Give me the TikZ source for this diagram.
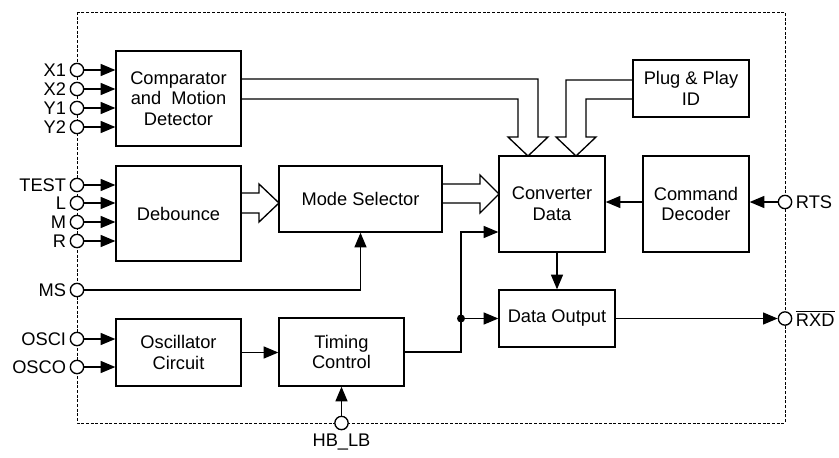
\documentclass[tikz,border=0pt]{standalone}
\usepackage{fontspec}
\setmainfont{Liberation Sans}
\usepackage{tikz}
\usetikzlibrary{arrows.meta}

\tikzset{
  blk/.style={draw, line width=1pt, align=center, inner sep=2pt},
  pin/.style={draw, circle, fill=white, line width=1pt, minimum size=10pt, inner sep=0pt},
  sig/.style={line width=1pt, -{Triangle[length=11pt,width=9pt]}},
  wire/.style={line width=1pt},
  bus/.style={line width=1pt, line join=miter},
  border/.style={line width=0.7pt, dash pattern=on 2.2pt off 1.3pt},
}

\begin{document}
\begin{tikzpicture}[x=0.75pt,y=0.75pt,yscale=-1,xscale=1,
    every node/.style={font=\fontsize{13.7}{15.5}\selectfont},
    every label/.style={font=\fontsize{13.7}{15.5}\selectfont, inner sep=2.5pt}]
  \useasboundingbox (0,0) rectangle (839,457);

  % chip outline
  \draw[border] (77,12) rectangle (785,423);

  % blocks
  \node[blk, minimum width=93.75pt, minimum height=71.25pt] (comp) at (178.5,98.5) {Comparator\\and~~Motion\\Detector};
  \node[blk, minimum width=93.75pt, minimum height=71.25pt] (deb) at (178.5,213.5) {Debounce};
  \node[blk, minimum width=93.75pt, minimum height=50.25pt] (osc) at (178.5,352.5) {Oscillator\\Circuit};
  \node[blk, minimum width=122.25pt, minimum height=49.5pt] (mode) at (360.5,199) {Mode Selector};
  \node[blk, minimum width=93.75pt, minimum height=51pt] (timing) at (341.5,352) {Timing\\Control};
  \node[blk, minimum width=79.5pt, minimum height=72pt] (conv) at (552,204) {Converter\\Data};
  \node[blk, minimum width=79.5pt, minimum height=72pt] (cmd) at (696,204) {Command\\Decoder};
  \node[blk, minimum width=87pt, minimum height=42.75pt] (pnp) at (691,88.5) {Plug \& Play\\ID};
  \node[blk, minimum width=87pt, minimum height=42.75pt] (dout) at (557,318.5) {Data Output};

  % pins
  \node[pin, label=left:X1] (x1) at (77,70) {};
  \node[pin, label=left:X2] (x2) at (77,89) {};
  \node[pin, label=left:Y1] (y1) at (77,108) {};
  \node[pin, label=left:Y2] (y2) at (77,127) {};
  \node[pin, label=left:TEST] (test) at (77,185) {};
  \node[pin, label=left:L] (l) at (77,203) {};
  \node[pin, label=left:M] (m) at (77,222) {};
  \node[pin, label=left:R] (r) at (77,241) {};
  \node[pin, label=left:MS] (ms) at (77,290) {};
  \node[pin, label=left:OSCI] (osci) at (77,339) {};
  \node[pin, label=left:OSCO] (osco) at (77,367) {};
  \node[pin, label=right:RTS] (rts) at (785,202) {};
  \node[pin, label=right:{\(\overline{\mbox{RXD}}\)}] (rxd) at (785,318.5) {};
  \node[pin, label=below:HB\_LB] (hblb) at (341.5,423) {};

  % inputs
  \foreach \p in {x1,x2,y1,y2}
    \draw[sig] (\p) -- (\p -| comp.west);
  \foreach \p in {test,l,m,r}
    \draw[sig] (\p) -- (\p -| deb.west);
  \foreach \p in {osci,osco}
    \draw[sig] (\p) -- (\p -| osc.west);
  \draw[sig] (ms) -| (mode.south);
  \draw[sig] (hblb) -- (timing.south);
  \draw[sig] (rts) -- (rts -| cmd.east);

  % internal signals
  \draw[sig] (osc.east) -- (osc.east -| timing.west);
  \draw[sig] (cmd.west |- rts) -- (rts -| conv.east);
  \draw[sig] (conv.south -| dout.north) -- (dout.north);
  \draw[sig] (dout) -- (rxd);
  \coordinate (jn) at (461,318.5);
  \draw[wire] (timing.east) -| (jn);
  \draw[sig] (jn) |- (conv.west |- 0,232);
  \draw[sig] (jn) -- (jn -| dout.west);
  \fill (jn) circle (4);

  % wide data paths
  \draw[bus] (comp.east |- 0,79) -| (538,137) -- (548,137) -- (528,156) -- (508,137) -- (518,137) |- (comp.east |- 0,99);
  \draw[bus] (pnp.west |- 0,80) -| (566,137) -- (556,137) -- (576,156) -- (596,137) -- (586,137) |- (pnp.west |- 0,99);
  \draw[bus] (deb.east |- 0,193) -- (259,193) -- (259,184) -- (279,203) -- (259,222) -- (259,213) -- (deb.east |- 0,213);
  \draw[bus] (mode.east |- 0,184) -- (480,184) -- (480,175) -- (499,194) -- (480,213) -- (480,203) -- (mode.east |- 0,203);
\end{tikzpicture}
\end{document}
